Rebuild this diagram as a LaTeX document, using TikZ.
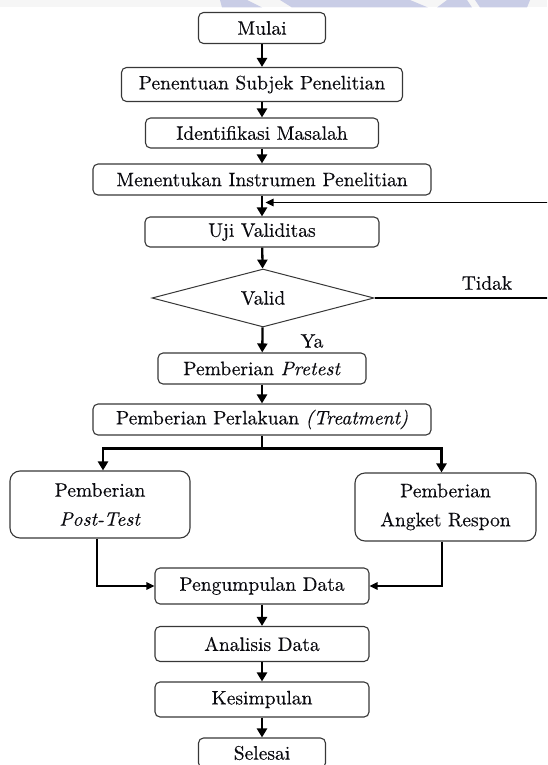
\documentclass[tikz,border=0pt]{standalone}
\usepackage{fontspec}
\setmainfont{lmroman10-regular.otf}[ItalicFont=lmroman10-italic.otf, FakeBold=0.3]
\usetikzlibrary{arrows.meta,shapes.geometric}
\definecolor{boxgray}{RGB}{55,55,55}
\definecolor{txt}{RGB}{10,10,15}
\definecolor{wm}{RGB}{201,205,230}
\definecolor{strip}{RGB}{246,246,246}
\begin{document}
\begin{tikzpicture}[x=1pt,y=-1pt,
  box/.style={draw=boxgray, line width=1.1pt, rounded corners=5pt, inner sep=0pt,
    text=txt, font=\fontsize{19.5}{23}\selectfont},
  bigbox/.style={box, rounded corners=10pt, align=center, font=\fontsize{19.5}{29}\selectfont},
  lbl/.style={text=txt, font=\fontsize{19.5}{23}\selectfont, inner sep=0pt},
  arr/.style={line width=2.3pt, -{Triangle[length=9pt,width=10pt]}},
  thinarr/.style={line width=1.3pt, -{Triangle[length=8pt,width=7.5pt]}},
  plain/.style={line width=1.3pt}]
\useasboundingbox (0,0) rectangle (547,765);
\clip (0,0) rectangle (547,765);
% top strip and watermark
\fill[strip] (0,0) rectangle (547,7.5);
\fill[wm] (220,0) -- (247,0) -- (262,7.5) -- (222,7.5) -- cycle;
\fill[wm] (280,0) -- (410,0) -- (428,7.5) -- (292,7.5) -- cycle;
\fill[wm] (447,0) -- (467,0) -- (472,7.5) -- (437,7.5) -- cycle;
\fill[wm] (475,0) -- (530,0) -- (527,7.5) -- (480,7.5) -- cycle;
% nodes
\node[box, minimum width=127, minimum height=31] (mulai) at (262,28) {Mulai};
\node[box, minimum width=281, minimum height=34] (subjek) at (262,84.5) {Penentuan Subjek Penelitian};
\node[box, minimum width=233, minimum height=30] (ident) at (262,133) {Identifikasi Masalah};
\node[box, minimum width=338, minimum height=31] (instr) at (262,179.5) {Menentukan Instrumen Penelitian};
\node[box, minimum width=234, minimum height=30] (uji) at (262,232) {Uji Validitas};
\node[diamond, draw=boxgray, line width=1pt, aspect=3.8, inner sep=0pt,
  minimum width=222, minimum height=58, text=txt, font=\fontsize{19.5}{23}\selectfont] (valid) at (263,298) {Valid};
\node[box, minimum width=208, minimum height=31] (pretest) at (262,368.5) {Pemberian \textit{Pretest}};
\node[box, minimum width=338, minimum height=31] (perlakuan) at (262,419.5) {Pemberian Perlakuan \textit{(Treatment)}};
\node[bigbox, minimum width=180, minimum height=67] (post) at (100,504.5) {Pemberian\\\textit{Post-Test}};
\node[bigbox, minimum width=181, minimum height=68] (angket) at (445.5,507) {Pemberian\\Angket Respon};
\node[box, minimum width=214, minimum height=36] (kumpul) at (262,586) {Pengumpulan Data};
\node[box, minimum width=214, minimum height=35] (analisis) at (262,644) {Analisis Data};
\node[box, minimum width=214, minimum height=35] (kesimpulan) at (262,699.5) {Kesimpulan};
\node[box, minimum width=127, minimum height=30] (selesai) at (262,753) {Selesai};
\node[lbl] (tidak) at (487,283) {Tidak};
\node[lbl] (ya) at (312,341) {Ya};
% connectors
\draw[arr] (mulai) -- (subjek);
\draw[arr] (subjek) -- (ident);
\draw[arr] (ident) -- (instr);
\draw[arr] (instr) -- (uji);
\draw[arr] (uji) -- (valid);
\draw[arr] (valid) -- (pretest);
\draw[arr] (pretest) -- (perlakuan);
\coordinate (br) at ([yshift=-13pt]perlakuan.south);
\draw[plain] (perlakuan.south) -- (br);
\draw[arr] (br) -| ([xshift=3pt]post.north);
\draw[arr] (br) -| ([xshift=-4pt]angket.north);
\draw[thinarr] ([xshift=-3pt]post.south) |- (kumpul.west);
\draw[thinarr] ([xshift=-3.5pt]angket.south) |- (kumpul.east);
\draw[arr] (kumpul) -- (analisis);
\draw[arr] (analisis) -- (kesimpulan);
\draw[arr] (kesimpulan) -- (selesai);
\coordinate (fbtip) at (265.5,202.5);
\draw[thinarr] (valid.east) -- (552,298) -- (552,202.5) -- (fbtip);
\end{tikzpicture}
\end{document}
